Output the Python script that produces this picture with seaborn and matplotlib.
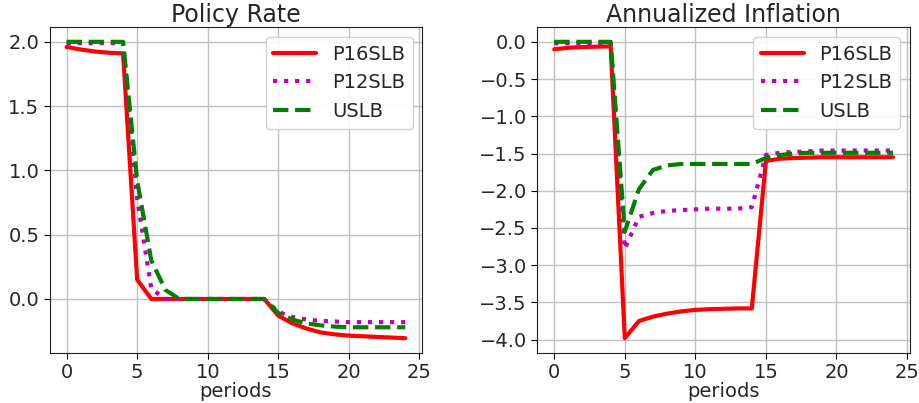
import numpy as np
import pandas as pd
import matplotlib
matplotlib.use("Agg")
import matplotlib.pyplot as plt
import seaborn as sns

periods = list(range(25))

# Policy rate
rate_p16 = [1.96, 1.94, 1.925, 1.915, 1.91, 0.15, 0.0, 0.0, 0.0, 0.0, 0.0, 0.0, 0.0, 0.0, 0.0,
            -0.13, -0.19, -0.23, -0.26, -0.275, -0.285, -0.29, -0.295, -0.30, -0.305]
rate_p12 = [1.99, 1.99, 1.99, 1.99, 1.99, 0.78, 0.08, 0.0, 0.0, 0.0, 0.0, 0.0, 0.0, 0.0, 0.0,
            -0.10, -0.14, -0.16, -0.17, -0.175, -0.18, -0.18, -0.18, -0.18, -0.18]
rate_uslb = [2.0, 2.0, 2.0, 2.0, 2.0, 0.92, 0.30, 0.07, 0.0, 0.0, 0.0, 0.0, 0.0, 0.0, 0.0,
             -0.11, -0.16, -0.19, -0.205, -0.215, -0.22, -0.22, -0.22, -0.22, -0.22]

# Annualized inflation
infl_p16 = [-0.10, -0.08, -0.07, -0.065, -0.06, -3.98, -3.75, -3.69, -3.65, -3.62, -3.60, -3.59,
            -3.585, -3.58, -3.58, -1.60, -1.57, -1.56, -1.555, -1.55, -1.55, -1.55, -1.55, -1.55, -1.55]
infl_p12 = [-0.02, -0.02, -0.02, -0.02, -0.02, -2.78, -2.35, -2.30, -2.27, -2.26, -2.25, -2.24,
            -2.24, -2.24, -2.22, -1.52, -1.49, -1.48, -1.47, -1.46, -1.46, -1.46, -1.46, -1.46, -1.46]
infl_uslb = [0.0, 0.0, 0.0, 0.0, 0.0, -2.55, -1.98, -1.72, -1.66, -1.64, -1.64, -1.64,
             -1.64, -1.64, -1.64, -1.56, -1.52, -1.50, -1.49, -1.49, -1.49, -1.49, -1.49, -1.49, -1.49]

labels = ["P16SLB", "P12SLB", "USLB"]
colors = ["red", "m", "green"]
styles = ["-", ":", "--"]

sns.set_style("ticks")
plt.rcParams["font.family"] = ["DejaVu Sans"]

fig = plt.figure(figsize=(9.2, 4.03), dpi=100)
ax1 = fig.add_axes([0.054, 0.124, 0.405, 0.809])
ax2 = fig.add_axes([0.584, 0.124, 0.405, 0.809])

panels = [
    (ax1, "Policy Rate", [rate_p16, rate_p12, rate_uslb], np.arange(0, 2.01, 0.5)),
    (ax2, "Annualized Inflation", [infl_p16, infl_p12, infl_uslb], np.arange(-4, 0.01, 0.5)),
]

for ax, title, series, yt in panels:
    for vals, lab, c, ls in zip(series, labels, colors, styles):
        df = pd.DataFrame({"periods": periods, "value": vals})
        sns.lineplot(data=df, x="periods", y="value", ax=ax, color=c,
                     linestyle=ls, linewidth=3, label=lab)
    ax.set_title(title, fontsize=17, pad=2)
    ax.set_xlabel("periods", fontsize=14, labelpad=0)
    ax.set_ylabel("")
    ax.set_xticks([0, 5, 10, 15, 20, 25])
    ax.set_yticks(yt)
    ax.set_yticklabels([f"{v:.1f}".replace("-", "\u2212") for v in yt])
    ax.tick_params(labelsize=14, color="black", length=4)
    ax.grid(True, color="#c0c0c0", linewidth=1)
    for s in ax.spines.values():
        s.set_color("#222222")
    ax.legend(loc="upper right", fontsize=14, handlelength=2.2, framealpha=0.9)

fig.savefig("out.png", dpi=100)
